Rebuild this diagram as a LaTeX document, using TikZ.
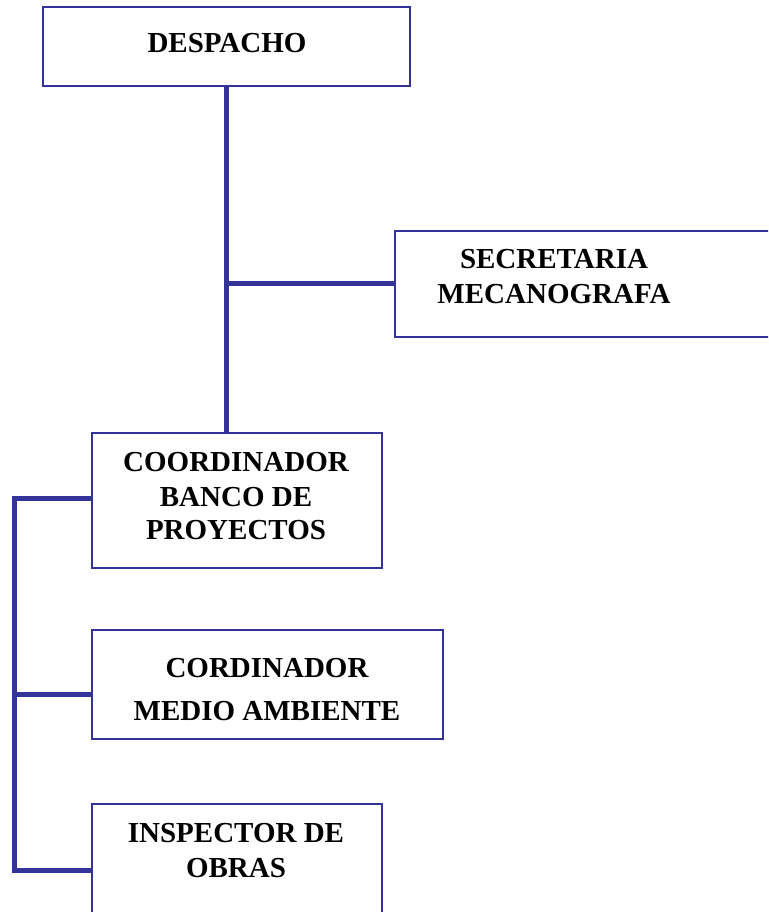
\documentclass[tikz,border=0pt]{standalone}
\usepackage{fontspec}
\setmainfont{Liberation Serif}
\definecolor{orgblue}{RGB}{51,51,153}
\begin{document}
\begin{tikzpicture}[x=1pt,y=-1pt,
  box/.style={draw=orgblue,line width=1.8pt,fill=white,inner sep=0pt,anchor=north west,rectangle},
  lbl/.style={anchor=base,inner sep=0pt,font=\fontsize{29}{34}\bfseries\selectfont,text=black},
  conn/.style={draw=orgblue,line width=5pt,line cap=butt}]
\useasboundingbox (0,0) rectangle (768,912);
\clip (0,0) rectangle (768,912);
% connectors
\coordinate (j1) at (226,283);
\coordinate (L1) at (14,498);
\coordinate (L2) at (14,694);
\coordinate (L3) at (14,870);
% boxes
\node[box,minimum width=367pt,minimum height=79pt] (desp) at (42,6) {};
\node[box,minimum width=380pt,minimum height=106pt] (sec) at (394,230) {};
\node[box,minimum width=290pt,minimum height=135pt] (coord) at (91,432) {};
\node[box,minimum width=351pt,minimum height=109pt] (medio) at (91,629) {};
\node[box,minimum width=290pt,minimum height=130pt] (insp) at (91,803) {};
% lines
\draw[conn] (226,85) -- (226,432);
\draw[conn] (j1) -- (j1 -| sec.west);
\draw[conn] (L1 -| coord.west) -- (L1) -- (L3) -- (L3 -| insp.west);
\draw[conn] (L2) -- (L2 -| medio.west);
% texts
\node[lbl] (t1) at (227,53) {DESPACHO};
\node[lbl] (t2a) at (554,268) {SECRETARIA};
\node[lbl] (t2b) at (554,303) {MECANOGRAFA};
\node[lbl] (t3a) at (236,471) {COORDINADOR};
\node[lbl] (t3b) at (236,506) {BANCO DE};
\node[lbl] (t3c) at (236,539) {PROYECTOS};
\node[lbl] (t4a) at (267,677) {CORDINADOR};
\node[lbl] (t4b) at (267,720) {MEDIO AMBIENTE};
\node[lbl] (t5a) at (236,842) {INSPECTOR DE};
\node[lbl] (t5b) at (236,877) {OBRAS};
\end{tikzpicture}
\end{document}
